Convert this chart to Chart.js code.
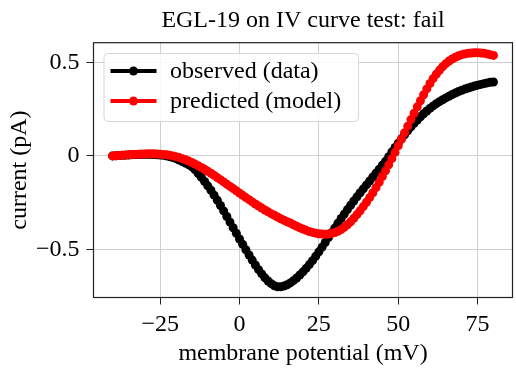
<!DOCTYPE html>
<html>
<head>
<meta charset="utf-8">
<script src="https://cdn.jsdelivr.net/npm/chart.js@4.4.1/dist/chart.umd.min.js"></script>
<style>
  html, body { margin: 0; padding: 0; background: #fff; overflow: hidden; }
  canvas { display: block; }
</style>
</head>
<body>
<canvas id="ivChart" width="517" height="369"></canvas>
<script>
// membrane potential (mV), 1 mV steps
const voltage = [
  -40, -39, -38, -37, -36, -35, -34, -33, -32, -31, -30, -29, -28, -27, -26, -25, -24, -23, -22, -21,
  -20, -19, -18, -17, -16, -15, -14, -13, -12, -11, -10, -9, -8, -7, -6, -5, -4, -3, -2, -1,
  0, 1, 2, 3, 4, 5, 6, 7, 8, 9, 10, 11, 12, 13, 14, 15, 16, 17, 18, 19,
  20, 21, 22, 23, 24, 25, 26, 27, 28, 29, 30, 31, 32, 33, 34, 35, 36, 37, 38, 39,
  40, 41, 42, 43, 44, 45, 46, 47, 48, 49, 50, 51, 52, 53, 54, 55, 56, 57, 58, 59,
  60, 61, 62, 63, 64, 65, 66, 67, 68, 69, 70, 71, 72, 73, 74, 75, 76, 77, 78, 79, 80
];

// observed current (pA)
const observed = [
  0.000, 0.001, 0.002, 0.003, 0.004, 0.005, 0.006, 0.007, 0.007, 0.008, 0.008, 0.008, 0.008, 0.007, 0.006, 0.005, 0.003, 0.000, -0.004, -0.009,
  -0.015, -0.022, -0.030, -0.039, -0.048, -0.058, -0.075, -0.094, -0.115, -0.137, -0.160, -0.184, -0.210, -0.237, -0.265, -0.294, -0.324, -0.354, -0.384, -0.414,
  -0.444, -0.473, -0.502, -0.530, -0.557, -0.583, -0.608, -0.631, -0.652, -0.669, -0.683, -0.694, -0.700, -0.700, -0.696, -0.689, -0.679, -0.667, -0.653, -0.637,
  -0.620, -0.601, -0.581, -0.560, -0.537, -0.513, -0.488, -0.463, -0.437, -0.411, -0.386, -0.360, -0.335, -0.311, -0.287, -0.264, -0.241, -0.219, -0.197, -0.176,
  -0.155, -0.134, -0.113, -0.092, -0.071, -0.050, -0.029, -0.004, 0.021, 0.045, 0.068, 0.091, 0.113, 0.134, 0.155, 0.174, 0.192, 0.209, 0.225, 0.240,
  0.254, 0.267, 0.279, 0.290, 0.300, 0.310, 0.319, 0.328, 0.336, 0.344, 0.351, 0.357, 0.363, 0.368, 0.373, 0.378, 0.382, 0.386, 0.390, 0.393, 0.395
];

// predicted current (pA)
const predicted = [
  0.000, 0.001, 0.002, 0.004, 0.005, 0.006, 0.007, 0.008, 0.009, 0.010, 0.010, 0.011, 0.011, 0.011, 0.010, 0.009, 0.008, 0.006, 0.003, 0.000,
  -0.004, -0.009, -0.015, -0.021, -0.028, -0.036, -0.044, -0.053, -0.062, -0.072, -0.082, -0.093, -0.104, -0.116, -0.127, -0.139, -0.151, -0.163, -0.175, -0.187,
  -0.199, -0.211, -0.223, -0.234, -0.246, -0.257, -0.268, -0.279, -0.289, -0.299, -0.309, -0.318, -0.327, -0.336, -0.344, -0.352, -0.359, -0.368, -0.376, -0.384,
  -0.391, -0.398, -0.404, -0.409, -0.413, -0.416, -0.418, -0.419, -0.418, -0.415, -0.410, -0.403, -0.394, -0.382, -0.368, -0.352, -0.334, -0.314, -0.293, -0.271,
  -0.248, -0.223, -0.197, -0.170, -0.141, -0.110, -0.080, -0.048, -0.015, 0.019, 0.054, 0.089, 0.124, 0.159, 0.194, 0.228, 0.262, 0.295, 0.327, 0.358,
  0.387, 0.413, 0.437, 0.458, 0.477, 0.493, 0.507, 0.518, 0.527, 0.535, 0.541, 0.545, 0.548, 0.550, 0.551, 0.551, 0.550, 0.548, 0.545, 0.541, 0.537
];

const xTicks = [-25, 0, 25, 50, 75];
const yTicks = [-0.5, 0, 0.5];

const seriesNames = ['observed (data)', 'predicted (model)'];
const seriesColors = ['#000000', '#ff0000'];

const FONT = "'Liberation Serif', 'Times New Roman', serif";

function fmt(v) {
  return (v < 0 ? '\u2212' : '') + Math.abs(v);
}

// full box around the axes plus a matplotlib-like legend
const frameAndLegend = {
  id: 'frameAndLegend',
  afterDatasetsDraw(chart) {
    const { ctx, chartArea: a } = chart;
    ctx.save();
    ctx.strokeStyle = '#222';
    ctx.lineWidth = 1.2;
    ctx.strokeRect(a.left, a.top, a.right - a.left, a.bottom - a.top);

    // legend box
    const bx = 104, by = 53.5, bw = 254.5, bh = 68, r = 4;
    ctx.beginPath();
    ctx.moveTo(bx + r, by);
    ctx.arcTo(bx + bw, by, bx + bw, by + bh, r);
    ctx.arcTo(bx + bw, by + bh, bx, by + bh, r);
    ctx.arcTo(bx, by + bh, bx, by, r);
    ctx.arcTo(bx, by, bx + bw, by, r);
    ctx.closePath();
    ctx.fillStyle = 'rgba(255,255,255,0.85)';
    ctx.fill();
    ctx.strokeStyle = '#d6d6d6';
    ctx.lineWidth = 1;
    ctx.stroke();

    ctx.font = '24px ' + FONT;
    ctx.textBaseline = 'middle';
    ctx.textAlign = 'left';
    seriesNames.forEach((name, i) => {
      const y = 71 + i * 30;
      ctx.strokeStyle = seriesColors[i];
      ctx.lineWidth = 4;
      ctx.beginPath();
      ctx.moveTo(110.5, y);
      ctx.lineTo(156.5, y);
      ctx.stroke();
      ctx.fillStyle = seriesColors[i];
      ctx.beginPath();
      ctx.arc(133.5, y, 4.5, 0, Math.PI * 2);
      ctx.fill();
      ctx.fillStyle = '#000';
      ctx.fillText(name, 170, y + 1);
    });
    ctx.restore();
  }
};

const ctx = document.getElementById('ivChart').getContext('2d');
const ivChart = new Chart(ctx, {
  type: 'line',
  data: {
    datasets: [
      {
        label: seriesNames[0],
        data: voltage.map((v, i) => ({ x: v, y: observed[i] })),
        borderColor: seriesColors[0],
        backgroundColor: seriesColors[0],
        borderWidth: 4,
        pointRadius: 4.5,
        pointBorderWidth: 0,
        pointBackgroundColor: seriesColors[0],
        tension: 0,
        order: 1
      },
      {
        label: seriesNames[1],
        data: voltage.map((v, i) => ({ x: v, y: predicted[i] })),
        borderColor: seriesColors[1],
        backgroundColor: seriesColors[1],
        borderWidth: 4,
        pointRadius: 4.5,
        pointBorderWidth: 0,
        pointBackgroundColor: seriesColors[1],
        tension: 0,
        order: 0
      }
    ]
  },
  options: {
    responsive: false,
    animation: false,
    devicePixelRatio: 1,
    layout: { padding: 0 },
    plugins: {
      legend: { display: false },
      tooltip: { enabled: false },
      title: {
        display: true,
        fullSize: false,
        text: 'EGL-19 on IV curve test: fail',
        color: '#000',
        font: { family: FONT, size: 24, weight: 'normal' },
        padding: { top: 6, bottom: 7.9 }
      }
    },
    scales: {
      x: {
        type: 'linear',
        min: -46,
        max: 86,
        afterFit: s => { s.height = 71.5; },
        afterBuildTicks: s => { s.ticks = xTicks.map(v => ({ value: v })); },
        ticks: {
          color: '#000',
          font: { family: FONT, size: 24 },
          padding: 6,
          maxRotation: 0,
          callback: v => fmt(v)
        },
        grid: { color: '#cfcfcf', lineWidth: 1, tickLength: 7, tickColor: '#222' },
        border: { display: false },
        title: {
          display: true,
          text: 'membrane potential (mV)',
          color: '#000',
          font: { family: FONT, size: 24 },
          padding: { top: 0, bottom: 1 }
        }
      },
      y: {
        min: -0.757,
        max: 0.605,
        afterFit: s => { s.width = 93.5; },
        afterBuildTicks: s => { s.ticks = yTicks.map(v => ({ value: v })); },
        ticks: {
          color: '#000',
          font: { family: FONT, size: 24 },
          padding: 7,
          callback: v => fmt(v)
        },
        grid: { color: '#cfcfcf', lineWidth: 1, tickLength: 7, tickColor: '#222' },
        border: { display: false },
        title: {
          display: true,
          text: 'current (pA)',
          color: '#000',
          font: { family: FONT, size: 24 },
          padding: { top: 5, bottom: 0 }
        }
      }
    }
  },
  plugins: [frameAndLegend]
});
</script>
</body>
</html>
